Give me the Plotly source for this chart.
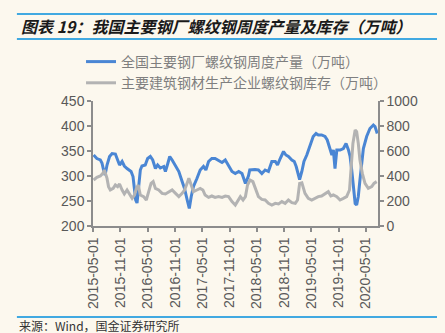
import plotly.graph_objects as go

# 全国主要钢厂螺纹钢周度产量（万吨）
prod_dates = [
    "2015-05-05", "2015-05-27", "2015-06-19", "2015-06-30", "2015-07-11", "2015-07-21",
    "2015-08-03", "2015-08-20", "2015-09-06", "2015-09-28", "2015-10-13", "2015-10-26",
    "2015-11-12", "2015-11-27", "2015-12-15", "2015-12-30", "2016-01-11", "2016-01-24",
    "2016-02-03", "2016-02-11", "2016-02-20", "2016-03-02", "2016-03-13", "2016-03-24",
    "2016-04-15", "2016-05-01", "2016-05-19", "2016-06-04", "2016-06-22", "2016-07-07",
    "2016-07-25", "2016-08-17", "2016-08-28", "2016-09-13", "2016-09-26", "2016-10-12",
    "2016-11-04", "2016-11-26", "2016-12-18", "2017-01-03", "2017-01-21", "2017-02-04",
    "2017-02-17", "2017-03-04", "2017-03-27", "2017-04-18", "2017-05-10", "2017-05-26",
    "2017-06-13", "2017-07-05", "2017-07-27", "2017-08-19", "2017-09-11", "2017-10-03",
    "2017-10-25", "2017-11-17", "2017-12-09", "2018-01-01", "2018-01-23", "2018-02-15",
    "2018-03-07", "2018-03-16", "2018-04-20", "2018-05-13", "2018-06-05", "2018-06-27",
    "2018-07-19", "2018-08-11", "2018-09-03", "2018-09-18", "2018-10-06", "2018-10-28",
    "2018-11-13", "2018-11-30", "2018-12-23", "2019-01-08", "2019-01-21", "2019-02-02",
    "2019-02-13", "2019-02-28", "2019-03-14", "2019-04-02", "2019-04-24", "2019-05-15",
    "2019-06-03", "2019-06-18", "2019-07-10", "2019-08-02", "2019-08-17", "2019-09-01",
    "2019-09-17", "2019-09-27", "2019-10-08", "2019-10-20", "2019-11-11", "2019-12-03",
    "2019-12-21", "2020-01-06", "2020-01-17", "2020-01-28", "2020-02-09", "2020-02-20",
    "2020-03-01", "2020-03-12", "2020-03-23", "2020-04-04", "2020-04-15", "2020-05-07",
    "2020-05-29", "2020-06-21", "2020-07-02", "2020-07-17",
]
prod_values = [
    342, 335, 332, 326, 312, 302,
    322, 339, 345, 344, 332, 322,
    329, 320, 315, 312, 309, 299,
    272, 252, 246, 279, 312, 320,
    322, 335, 339, 332, 315, 322,
    316, 319, 309, 325, 339, 332,
    319, 309, 289, 275, 252, 235,
    259, 279, 295, 312, 319, 312,
    329, 335, 335, 331, 327, 332,
    322, 309, 305, 309, 305, 285,
    300, 312, 313, 312, 305, 312,
    309, 329, 329, 322, 335, 349,
    342, 339, 332, 329, 319, 302,
    293, 309, 329, 342, 362, 379,
    385, 382, 382, 379, 372, 359,
    342, 352, 315, 352, 352, 355,
    365, 352, 339, 312, 272, 245,
    242, 259, 292, 332, 355, 379,
    395, 402, 399, 385,
]

# 主要建筑钢材生产企业螺纹钢库存（万吨）
stock_dates = [
    "2015-05-05", "2015-05-27", "2015-06-19", "2015-07-06", "2015-07-16", "2015-08-03",
    "2015-08-13", "2015-08-25", "2015-09-13", "2015-09-28", "2015-10-13", "2015-10-26",
    "2015-11-12", "2015-11-27", "2015-12-15", "2016-01-02", "2016-01-18", "2016-02-03",
    "2016-02-16", "2016-02-28", "2016-03-13", "2016-04-04", "2016-04-22", "2016-05-08",
    "2016-05-24", "2016-06-07", "2016-06-22", "2016-07-14", "2016-08-06", "2016-08-28",
    "2016-09-20", "2016-10-12", "2016-11-04", "2016-11-26", "2016-12-18", "2017-01-03",
    "2017-01-16", "2017-02-01", "2017-02-17", "2017-03-04", "2017-03-27", "2017-04-18",
    "2017-05-06", "2017-05-21", "2017-06-13", "2017-07-05", "2017-07-27", "2017-08-19",
    "2017-09-11", "2017-10-03", "2017-10-25", "2017-11-17", "2017-12-09", "2018-01-01",
    "2018-01-12", "2018-01-30", "2018-02-15", "2018-03-01", "2018-03-18", "2018-04-06",
    "2018-04-20", "2018-05-13", "2018-06-05", "2018-06-27", "2018-07-19", "2018-08-11",
    "2018-09-03", "2018-09-25", "2018-10-17", "2018-11-08", "2018-11-30", "2018-12-23",
    "2019-01-15", "2019-01-30", "2019-02-13", "2019-02-28", "2019-03-21", "2019-04-12",
    "2019-05-05", "2019-05-27", "2019-06-18", "2019-07-10", "2019-08-02", "2019-08-24",
    "2019-09-10", "2019-09-27", "2019-10-20", "2019-11-11", "2019-12-03", "2019-12-25",
    "2020-01-13", "2020-01-24", "2020-02-05", "2020-02-20", "2020-03-01", "2020-03-12",
    "2020-03-23", "2020-04-08", "2020-04-26", "2020-05-18", "2020-06-10", "2020-06-25",
    "2020-07-13",
]
stock_values = [
    368, 389, 400, 421, 448, 381,
    315, 288, 301, 328, 315, 336,
    288, 256, 288, 248, 221, 248,
    301, 328, 248, 235, 208, 275,
    341, 355, 301, 288, 261, 256,
    275, 288, 261, 235, 261, 288,
    328, 381, 328, 275, 288, 301,
    288, 248, 229, 240, 229, 235,
    229, 240, 235, 195, 168, 208,
    235, 208, 235, 328, 368, 355,
    315, 235, 213, 208, 181, 168,
    181, 176, 195, 181, 208, 187,
    181, 208, 341, 345, 261, 221,
    208, 221, 235, 240, 256, 275,
    240, 248, 235, 208, 221, 235,
    288, 448, 661, 768, 755, 661,
    528, 421, 341, 301, 315, 341,
    355,
]

series_names = ["全国主要钢厂螺纹钢周度产量（万吨）", "主要建筑钢材生产企业螺纹钢库存（万吨）"]
title_text = "图表 19：我国主要钢厂螺纹钢周度产量及库存（万吨）"
source_text = "来源：Wind，国金证券研究所"

BG = "#FCF8EE"
AXIS = "#8C8C8C"
TICKFONT = dict(family="Liberation Sans, Arial, sans-serif", size=14, color="#595959")
CJK = "Noto Sans CJK SC, sans-serif"
RULE = "#41A9E1"

fig = go.Figure()
fig.add_trace(go.Scatter(
    x=prod_dates, y=prod_values, name=series_names[0], mode="lines",
    line=dict(color="#4A86D4", width=3), yaxis="y",
))
fig.add_trace(go.Scatter(
    x=stock_dates, y=stock_values, name=series_names[1], mode="lines",
    line=dict(color="#B3B3B3", width=3), yaxis="y2",
))

fig.update_layout(
    width=445, height=333,
    margin=dict(l=93, r=67, t=101, b=107),
    paper_bgcolor=BG, plot_bgcolor=BG,
    showlegend=True,
    legend=dict(
        x=-0.042, y=1.44, xanchor="left", yanchor="top",
        bgcolor="rgba(0,0,0,0)", font=dict(family=CJK, size=14, color="#7F7F7F"),
        tracegroupgap=0, itemwidth=30,
    ),
    hovermode=False,
    xaxis=dict(
        type="date", range=["2015-05-01", "2020-07-22"],
        tick0="2015-05-01", dtick="M6", tickformat="%Y-%m-%d", tickangle=-90,
        showgrid=False, zeroline=False,
        showline=True, linecolor=AXIS, linewidth=1.5,
        ticks="outside", ticklen=4, tickcolor=AXIS, tickwidth=1.5,
        tickfont=TICKFONT,
    ),
    yaxis=dict(
        range=[200, 450], dtick=50, showgrid=False, zeroline=False,
        showline=True, linecolor=AXIS, linewidth=1.5,
        ticks="outside", ticklen=4, tickcolor=AXIS, tickwidth=1.5,
        tickfont=TICKFONT,
    ),
    yaxis2=dict(
        range=[0, 1000], dtick=200, overlaying="y", side="right",
        showgrid=False, zeroline=False,
        showline=True, linecolor=AXIS, linewidth=1.5,
        ticks="outside", ticklen=4, tickcolor=AXIS, tickwidth=1.5,
        tickfont=TICKFONT,
    ),
    shapes=[
        dict(type="line", xref="paper", yref="paper", x0=-0.267, x1=1.207,
             y0=(226 - 14) / 125, y1=(226 - 14) / 125, line=dict(color=RULE, width=2)),
        dict(type="line", xref="paper", yref="paper", x0=-0.267, x1=1.207,
             y0=(226 - 39) / 125, y1=(226 - 39) / 125, line=dict(color=RULE, width=2)),
        dict(type="line", xref="paper", yref="paper", x0=-0.267, x1=1.207,
             y0=(226 - 317) / 125, y1=(226 - 317) / 125, line=dict(color=RULE, width=2)),
    ],
    annotations=[
        dict(text="<b><i>" + title_text + "</i></b>", xref="paper", yref="paper",
             x=(19 - 93) / 285, y=(226 - 26) / 125, xanchor="left", yanchor="middle",
             showarrow=False, font=dict(family=CJK, size=16, color="#1A1A1A")),
        dict(text=source_text, xref="paper", yref="paper",
             x=(17 - 93) / 285, y=(226 - 325) / 125, xanchor="left", yanchor="middle",
             showarrow=False, font=dict(family=CJK, size=12, color="#333333")),
    ],
)

fig.write_html("out.html")
